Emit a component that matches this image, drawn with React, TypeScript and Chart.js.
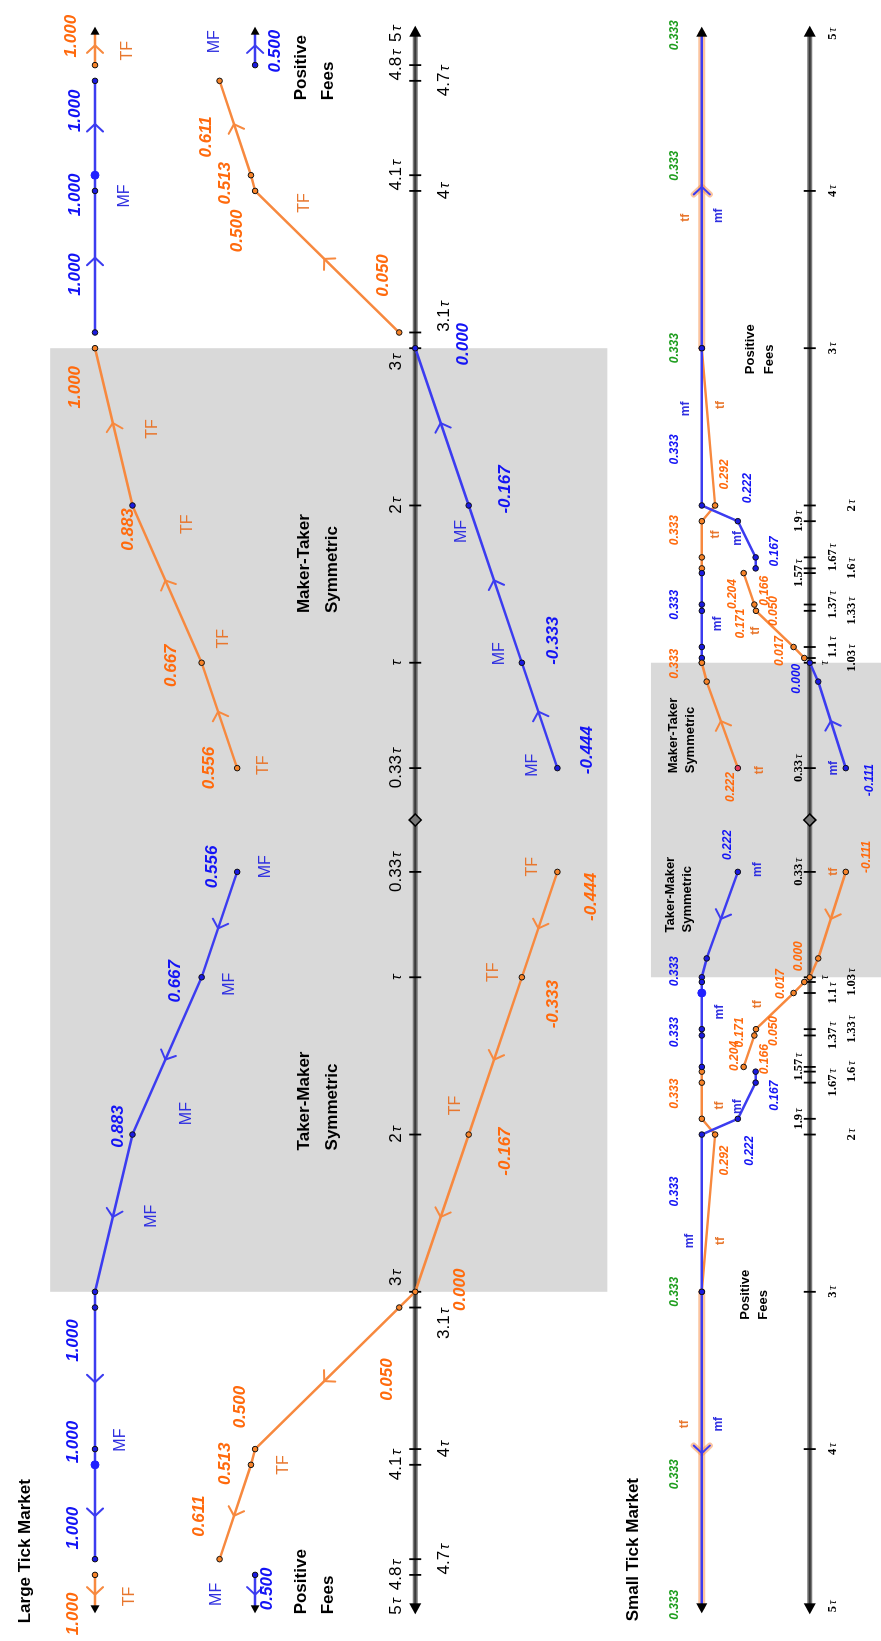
import { useEffect, useRef } from "react";
import { Chart, registerables } from "chart.js";

Chart.register(...registerables);

/* ---------- Large tick market ---------- */
// τ multiples; the maker-taker side runs to the right, the taker-maker side is mirrored to the left
const LT_SYM_TAU = [0.33, 1, 2, 3];
const LT_UPPER = [0.556, 0.667, 0.883, 1.0]; // TF on maker-taker side, MF on taker-maker side
const LT_LOWER = [-0.444, -0.333, -0.167, 0.0]; // MF on maker-taker side, TF on taker-maker side
const LT_POS_TAU = [3.1, 4, 4.1, 4.7];
const LT_POS_TF = [0.05, 0.5, 0.513, 0.611];
const LT_POS_MF = [1.0, 1.0, 1.0, 1.0];
const LT_RAY_TAU = [4.8, 5];
const LT_RAY_TF = [1.0, 1.0];
const LT_RAY_MF = [0.5, 0.5];
const LT_TICKS = [0.33, 1, 2, 3, 3.1, 4, 4.1, 4.7, 4.8, 5];

/* ---------- Small tick market ---------- */
const ST_SYM_TAU = [0.33, 0.88, 1];
const ST_UPPER = [0.222, 0.318, 0.333];
const ST_LOWER = [-0.111, -0.026, 0.0];
const ST_A_TAU = [1.03, 1.1, 1.33, 1.37, 1.57];
const ST_A_TF = [0.017, 0.05, 0.166, 0.171, 0.204];
const ST_A_MF_TAU = [1, 1.03, 1.1, 1.33, 1.37, 1.57];
const ST_A_MF = [0.333, 0.333, 0.333, 0.333, 0.333, 0.333];
const ST_B_TAU = [1.6, 1.67, 1.9, 2, 3];
const ST_B_TF = [0.333, 0.333, 0.333, 0.292, 0.333];
const ST_B_MF = [0.167, 0.167, 0.222, 0.333, 0.333];
const ST_FAR_TAU = [3, 5];
const ST_FAR = [0.333, 0.333];
const ST_TICKS = [0.33, 1, 1.03, 1.1, 1.33, 1.37, 1.57, 1.6, 1.67, 1.9, 2, 3, 4, 5];

/* ---------- styling ---------- */
const W = 1641;
const H = 881;
const SANS = '"Liberation Sans", Arial, Helvetica, sans-serif';
const SERIF = '"Liberation Serif", "Times New Roman", serif';
const ORANGE = "#f7893f";
const BLUE = "#3c3cf0";
const ORANGE_TXT = "#ff6a0d";
const BLUE_TXT = "#1414f5";
const GREEN_TXT = "#1f9e1f";
const TF_NAME = "#e8772e";
const MF_NAME = "#2f2fe0";
const DOT_ORANGE = "#f7842a";
const DOT_BLUE = "#1a1ae0";
const DOT_RED = "#e83c5e";
const BAND = "#d9d9d9";

// shaded symmetric regions (τ range, value range)
const LT_BAND_TAU = [-3, 3];
const LT_BAND_VAL = [-0.6, 1.14];
const ST_BAND_TAU = [-1, 1];
const ST_BAND_VAL = [-0.25, 0.49];

const neg = (a: number[]) => a.map((t) => -t);

type Ser = { tau: number[]; val: number[]; axis: "y" | "y2"; kind: "tf" | "mf" | "eq" };
const SERIES: Record<string, Ser> = {
  ltUpR: { tau: LT_SYM_TAU, val: LT_UPPER, axis: "y", kind: "tf" },
  ltLoR: { tau: LT_SYM_TAU, val: LT_LOWER, axis: "y", kind: "mf" },
  ltUpL: { tau: neg(LT_SYM_TAU), val: LT_UPPER, axis: "y", kind: "mf" },
  ltLoL: { tau: neg(LT_SYM_TAU), val: LT_LOWER, axis: "y", kind: "tf" },
  ltPosTfR: { tau: LT_POS_TAU, val: LT_POS_TF, axis: "y", kind: "tf" },
  ltPosMfR: { tau: LT_POS_TAU, val: LT_POS_MF, axis: "y", kind: "mf" },
  ltPosTfL: { tau: neg(LT_POS_TAU), val: LT_POS_TF, axis: "y", kind: "tf" },
  ltPosMfL: { tau: neg(LT_POS_TAU), val: LT_POS_MF, axis: "y", kind: "mf" },
  ltRayTfR: { tau: LT_RAY_TAU, val: LT_RAY_TF, axis: "y", kind: "tf" },
  ltRayTfL: { tau: neg(LT_RAY_TAU), val: LT_RAY_TF, axis: "y", kind: "tf" },
  ltRayMfR: { tau: LT_RAY_TAU, val: LT_RAY_MF, axis: "y", kind: "mf" },
  ltRayMfL: { tau: neg(LT_RAY_TAU), val: LT_RAY_MF, axis: "y", kind: "mf" },
  stUpR: { tau: ST_SYM_TAU, val: ST_UPPER, axis: "y2", kind: "tf" },
  stLoR: { tau: ST_SYM_TAU, val: ST_LOWER, axis: "y2", kind: "mf" },
  stUpL: { tau: neg(ST_SYM_TAU), val: ST_UPPER, axis: "y2", kind: "mf" },
  stLoL: { tau: neg(ST_SYM_TAU), val: ST_LOWER, axis: "y2", kind: "tf" },
  stATfR: { tau: ST_A_TAU, val: ST_A_TF, axis: "y2", kind: "tf" },
  stATfL: { tau: neg(ST_A_TAU), val: ST_A_TF, axis: "y2", kind: "tf" },
  stAMfR: { tau: ST_A_MF_TAU, val: ST_A_MF, axis: "y2", kind: "mf" },
  stAMfL: { tau: neg(ST_A_MF_TAU), val: ST_A_MF, axis: "y2", kind: "mf" },
  stBTfR: { tau: ST_B_TAU, val: ST_B_TF, axis: "y2", kind: "tf" },
  stBTfL: { tau: neg(ST_B_TAU), val: ST_B_TF, axis: "y2", kind: "tf" },
  stBMfR: { tau: ST_B_TAU, val: ST_B_MF, axis: "y2", kind: "mf" },
  stBMfL: { tau: neg(ST_B_TAU), val: ST_B_MF, axis: "y2", kind: "mf" },
  stFarR: { tau: ST_FAR_TAU, val: ST_FAR, axis: "y2", kind: "eq" },
  stFarL: { tau: neg(ST_FAR_TAU), val: ST_FAR, axis: "y2", kind: "eq" },
};

type Part = { tau: number[]; val: number[] };
const tail = (s: Part): Part => ({ tau: s.tau.slice(1), val: s.val.slice(1) });
const join = (...parts: Part[]) =>
  parts.flatMap((p) => p.tau.map((t, i) => ({ x: t, y: p.val[i] })));

const per = (n: number, base: any, over: Record<number, any> = {}) =>
  Array.from({ length: n }, (_, i) => (i in over ? over[i] : base));

function ds(data: any[], axis: string, color: string, o: any = {}) {
  const n = data.length;
  const dot = color === ORANGE ? DOT_ORANGE : DOT_BLUE;
  return {
    type: "line",
    data,
    yAxisID: axis,
    borderColor: o.lineColor ?? color,
    borderWidth: o.width ?? 2.5,
    borderCapStyle: "round",
    borderJoinStyle: "round",
    pointRadius: o.radius ?? per(n, 2.8, o.radiusOver),
    pointBackgroundColor: per(n, dot, o.fillOver),
    pointBorderColor: per(n, "#111", o.borderOver),
    pointBorderWidth: 1,
    pointHoverRadius: 0,
    tension: 0,
    fill: false,
    clip: false,
    order: o.order ?? 0,
    arrows: o.arrows ?? [],
    chevColor: o.chevColor ?? color,
    chevW: o.chevW ?? 2,
    endArrow: o.end ?? false,
    endSize: o.endSize ?? 9,
  };
}

const S = SERIES;
const BIG = "#2020ff";
const DATASETS = [
  // large tick market, maker-taker side
  ds(join(S.ltUpR), "y", ORANGE, { arrows: [0, 1, 2], fillOver: { 2: DOT_BLUE } }),
  ds(join(S.ltLoR), "y", BLUE, { arrows: [0, 1, 2] }),
  ds(join(S.ltPosMfR), "y", BLUE, { arrows: [0, 2], radiusOver: { 2: 4 }, fillOver: { 2: BIG }, borderOver: { 2: BIG } }),
  ds(join(S.ltPosTfR), "y", ORANGE, { arrows: [0, 2] }),
  // large tick market, taker-maker side (continues into positive fees)
  ds(join(S.ltUpL, S.ltPosMfL), "y", BLUE, { arrows: [0, 1, 2, 4, 6], radiusOver: { 6: 4 }, fillOver: { 6: BIG }, borderOver: { 6: BIG } }),
  ds(join(S.ltLoL, S.ltPosTfL), "y", ORANGE, { arrows: [0, 1, 2, 4, 6] }),
  // rays beyond 4.8τ
  ds(join(S.ltRayTfR), "y", ORANGE, { arrows: [0], end: true, endSize: 8, radius: [2.8, 0] }),
  ds(join(S.ltRayTfL), "y", ORANGE, { arrows: [0], end: true, endSize: 8, radius: [2.8, 0] }),
  ds(join(S.ltRayMfR), "y", BLUE, { arrows: [0], end: true, endSize: 8, radius: [2.8, 0] }),
  ds(join(S.ltRayMfL), "y", BLUE, { arrows: [0], end: true, endSize: 8, radius: [2.8, 0] }),
  // small tick market, maker-taker side
  ds(join(S.stUpR), "y2", ORANGE, { arrows: [0], fillOver: { 0: DOT_RED } }),
  ds(join(S.stLoR), "y2", BLUE, { arrows: [0] }),
  ds(join(S.stAMfR), "y2", BLUE),
  ds(join(S.stATfR), "y2", ORANGE),
  ds(join(S.stBMfR, tail(S.stFarR)), "y2", BLUE, { arrows: [4], end: true, endSize: 10, radiusOver: { 5: 0 } }),
  ds(join(S.stBTfR), "y2", ORANGE, { fillOver: { 4: DOT_RED } }),
  ds(join(S.stFarR), "y2", ORANGE, { lineColor: "rgba(247,137,63,0.5)", width: 7, radius: [0, 0], arrows: [0], chevColor: "rgba(247,137,63,0.5)", chevW: 6, order: 5 }),
  // small tick market, taker-maker side
  ds(join(S.stUpL, tail(S.stAMfL)), "y2", BLUE, { arrows: [0], radiusOver: { 4: 4 }, fillOver: { 4: BIG }, borderOver: { 4: BIG } }),
  ds(join(S.stLoL, S.stATfL), "y2", ORANGE, { arrows: [0] }),
  ds(join(S.stBMfL, tail(S.stFarL)), "y2", BLUE, { arrows: [4], end: true, endSize: 10, radiusOver: { 5: 0 } }),
  ds(join(S.stBTfL), "y2", ORANGE),
  ds(join(S.stFarL), "y2", ORANGE, { lineColor: "rgba(247,137,63,0.5)", width: 7, radius: [0, 0], arrows: [0], chevColor: "rgba(247,137,63,0.5)", chevW: 6, order: 5 }),
];

/* ---------- label layout ---------- */
// value labels: [series, point index, dx px, dy px]
const LT_VALUE_LABELS: [string, number, number, number][] = [
  ["ltUpR", 0, 0, -28], ["ltUpR", 1, -3, -30], ["ltUpR", 2, -24, -4], ["ltUpR", 3, -39, -20],
  ["ltLoR", 0, 18, 30], ["ltLoR", 1, 22, 31], ["ltLoR", 2, 16, 37], ["ltLoR", 3, 4, 48],
  ["ltUpL", 0, 5, -25], ["ltUpL", 1, -4, -26], ["ltUpL", 2, 8, -14],
  ["ltLoL", 0, -25, 34], ["ltLoL", 1, -27, 31], ["ltLoL", 2, -17, 37], ["ltLoL", 3, 2, 45],
  ["ltPosTfR", 0, 57, -16], ["ltPosTfR", 1, -40, -18], ["ltPosTfR", 2, -8, -26], ["ltPosTfR", 3, -56, -13],
  ["ltPosMfR", 0, 58, -20], ["ltPosMfR", 1, -4, -20], ["ltPosMfR", 3, -30, -20],
  ["ltPosTfL", 0, -72, -12], ["ltPosTfL", 1, 42, -15], ["ltPosTfL", 2, 1, -26], ["ltPosTfL", 3, 43, -20],
  ["ltPosMfL", 0, -33, -22], ["ltPosMfL", 1, 7, -22], ["ltPosMfL", 3, 31, -22],
  ["ltRayTfR", 0, 29, -24], ["ltRayMfR", 0, 14, 20], ["ltRayTfL", 0, -39, -22], ["ltRayMfL", 0, -14, 12],
];
const ST_VALUE_LABELS: [string, number, number, number][] = [
  ["stUpR", 0, -19, -7], ["stLoR", 0, -12, 24], ["stUpR", 2, -1, -27], ["stLoR", 2, -16, -13],
  ["stUpL", 0, 27, -10], ["stLoL", 0, 15, 21], ["stLoL", 2, 21, -11], ["stUpL", 2, 6, -27],
  ["stATfR", 0, 7, -25], ["stATfR", 1, 36, -20], ["stATfR", 2, 20, 9], ["stATfR", 3, -19, -14], ["stATfR", 4, -21, -11],
  ["stBMfR", 0, 17, 19], ["stBMfR", 2, 33, 10], ["stBTfR", 3, 31, 10], ["stBMfR", 3, 56, -27], ["stBTfR", 2, -9, -27],
  ["stAMfR", 3, 6, -27],
  ["stAMfL", 3, -3, -27], ["stBTfL", 1, -11, -27], ["stBMfL", 3, -57, -27],
  ["stBTfL", 3, -26, 10], ["stBMfL", 2, -32, 12], ["stBMfL", 0, -24, 19],
  ["stATfL", 4, 11, -9], ["stATfL", 3, 3, -15], ["stATfL", 2, -30, 9], ["stATfL", 1, -38, -20], ["stATfL", 0, -2, -24],
];
// where the shared 0.333 level is annotated (τ)
const ST_EQ_LABEL_TAU = [3.0, 4.16, 4.99];

// series names at (τ, value)
const LT_NAMES: [string, number, number][] = [
  ["TF", 2.487, 0.82], ["TF", 1.88, 0.712], ["TF", 1.152, 0.598], ["TF", 0.348, 0.474],
  ["TF", -0.297, -0.368], ["TF", -0.968, -0.245], ["TF", -1.816, -0.127],
  ["TF", 3.924, 0.347], ["TF", -4.101, 0.412], ["TF", 4.892, 0.898], ["TF", -4.937, 0.892],
  ["MF", 1.835, -0.146], ["MF", 1.057, -0.263], ["MF", 0.348, -0.368],
  ["MF", -0.297, 0.467], ["MF", -1.044, 0.579], ["MF", -1.867, 0.715], ["MF", -2.519, 0.824],
  ["MF", 3.968, 0.907], ["MF", -3.943, 0.92], ["MF", 4.949, 0.625], ["MF", -4.924, 0.619],
];
const ST_NAMES: [string, number, number][] = [
  ["tf", 2.639, 0.275], ["tf", 1.816, 0.291], ["tf", 1.203, 0.168], ["tf", 0.316, 0.156],
  ["tf", -0.329, -0.073], ["tf", -1.171, 0.162], ["tf", -1.816, 0.278], ["tf", -2.677, 0.275],
  ["tf", 3.829, 0.382], ["tf", -3.842, 0.385],
  ["mf", 2.614, 0.382], ["mf", 1.791, 0.223], ["mf", 1.247, 0.284], ["mf", 0.329, -0.073],
  ["mf", -0.316, 0.162], ["mf", -1.222, 0.278], ["mf", -1.823, 0.223], ["mf", -2.677, 0.37],
  ["mf", 3.842, 0.281], ["mf", -3.842, 0.281],
];
// block texts: [lines, τ of left edge, value of first line centre, value step, axis, font]
const BLOCKS: [string[], number, number, number, "y" | "y2", string][] = [
  [["Large Tick Market"], -5.108, 1.217, 0, "y", `bold 17px ${SANS}`],
  [["Maker-Taker", "Symmetric"], 1.316, 0.347, -0.087, "y", `bold 17px ${SANS}`],
  [["Taker-Maker", "Symmetric"], -2.101, 0.347, -0.087, "y", `bold 17px ${SANS}`],
  [["Positive", "Fees"], 4.576, 0.356, -0.084, "y", `bold 17px ${SANS}`],
  [["Positive", "Fees"], -5.051, 0.356, -0.084, "y", `bold 17px ${SANS}`],
  [["Small Tick Market"], -5.095, 0.544, 0, "y2", `bold 17px ${SANS}`],
  [["Maker-Taker", "Symmetric"], 0.297, 0.422, -0.055, "y2", `bold 13px ${SANS}`],
  [["Taker-Maker", "Symmetric"], -0.715, 0.431, -0.055, "y2", `bold 13px ${SANS}`],
  [["Positive", "Fees"], 2.835, 0.183, -0.058, "y2", `bold 13px ${SANS}`],
  [["Positive", "Fees"], -3.177, 0.199, -0.055, "y2", `bold 13px ${SANS}`],
];
// tick label placement: side of axis and a nudge along it (outward positive)
const LT_TICK_SIDE = ["a", "a", "a", "a", "b", "b", "a", "b", "a", "a"];
const LT_TICK_NUDGE = [0, 0, 0, -14, 16, 0, 0, 0, 0, 0];
const ST_TICK_ROW = ["a", "t", "r2", "r1", "r2", "r1", "a", "r2", "r1", "a", "r2", "r1", "r1", "r1"];

/* ---------- drawing helpers ---------- */
function chevron(ctx: CanvasRenderingContext2D, x: number, y: number, ang: number, color: string, lw: number) {
  const size = 11;
  const spread = 0.82;
  ctx.save();
  ctx.strokeStyle = color;
  ctx.lineWidth = lw;
  ctx.lineCap = "round";
  ctx.lineJoin = "round";
  ctx.beginPath();
  ctx.moveTo(x + size * Math.cos(ang + Math.PI - spread), y + size * Math.sin(ang + Math.PI - spread));
  ctx.lineTo(x, y);
  ctx.lineTo(x + size * Math.cos(ang + Math.PI + spread), y + size * Math.sin(ang + Math.PI + spread));
  ctx.stroke();
  ctx.restore();
}

function triangle(ctx: CanvasRenderingContext2D, x: number, y: number, ang: number, len: number, half: number) {
  const bx = x - len * Math.cos(ang);
  const by = y - len * Math.sin(ang);
  ctx.save();
  ctx.fillStyle = "#000";
  ctx.beginPath();
  ctx.moveTo(x, y);
  ctx.lineTo(bx + half * Math.sin(ang), by - half * Math.cos(ang));
  ctx.lineTo(bx - half * Math.sin(ang), by + half * Math.cos(ang));
  ctx.closePath();
  ctx.fill();
  ctx.restore();
}

function tauLabel(ctx: CanvasRenderingContext2D, t: number, cx: number, cy: number, numFont: string, tauFont: string, shift: number) {
  const num = t === 1 ? "" : String(t);
  ctx.font = numFont;
  const w1 = num ? ctx.measureText(num).width + 1.5 : 0;
  ctx.font = tauFont;
  const w2 = ctx.measureText("τ").width;
  const x0 = cx - (w1 + w2) / 2;
  ctx.fillStyle = "#000";
  ctx.textAlign = "left";
  ctx.textBaseline = "alphabetic";
  if (num) {
    ctx.font = numFont;
    ctx.fillText(num, x0, cy + shift);
  }
  ctx.font = tauFont;
  ctx.fillText("τ", x0 + w1, cy + shift);
}

function text(ctx: CanvasRenderingContext2D, s: string, x: number, y: number, font: string, color: string, align: CanvasTextAlign = "center") {
  ctx.font = font;
  ctx.fillStyle = color;
  ctx.textAlign = align;
  ctx.textBaseline = "middle";
  ctx.fillText(s, x, y);
}

const backdrop = {
  id: "backdrop",
  beforeDatasetsDraw(chart: any) {
    const { ctx } = chart;
    const X = (t: number) => chart.scales.x.getPixelForValue(t);
    const Y = (v: number, a: string) => chart.scales[a].getPixelForValue(v);
    ctx.save();
    ctx.fillStyle = BAND;
    const box = (tau: number[], val: number[], a: string) => {
      const x0 = X(tau[0]);
      const x1 = X(tau[1]);
      const y0 = Y(val[1], a);
      const y1 = Y(val[0], a);
      ctx.fillRect(x0, y0, x1 - x0, y1 - y0);
    };
    box(LT_BAND_TAU, LT_BAND_VAL, "y");
    box(ST_BAND_TAU, ST_BAND_VAL, "y2");

    const axis = (a: string, ticks: number[]) => {
      const y0 = Y(0, a);
      const end = ticks[ticks.length - 1];
      ctx.lineCap = "butt";
      ctx.strokeStyle = "#7a7a7a";
      ctx.lineWidth = 5;
      ctx.beginPath();
      ctx.moveTo(X(-end), y0);
      ctx.lineTo(X(end), y0);
      ctx.stroke();
      ctx.strokeStyle = "#3a3a3a";
      ctx.lineWidth = 2;
      ctx.stroke();
      triangle(ctx, X(end) + 8, y0, 0, 11, 6);
      triangle(ctx, X(-end) - 8, y0, Math.PI, 11, 6);
      ctx.strokeStyle = "#000";
      ctx.lineWidth = 1.8;
      for (const t of ticks.slice(0, -1)) {
        for (const s of [1, -1]) {
          ctx.beginPath();
          ctx.moveTo(X(s * t), y0 - 6);
          ctx.lineTo(X(s * t), y0 + 6);
          ctx.stroke();
        }
      }
      const cx = X(0);
      ctx.beginPath();
      ctx.moveTo(cx - 6, y0);
      ctx.lineTo(cx, y0 - 6);
      ctx.lineTo(cx + 6, y0);
      ctx.lineTo(cx, y0 + 6);
      ctx.closePath();
      ctx.fillStyle = "#777";
      ctx.fill();
      ctx.lineWidth = 1.6;
      ctx.stroke();
    };
    axis("y", LT_TICKS);
    axis("y2", ST_TICKS);

    // tick labels
    const ly = Y(0, "y");
    LT_TICKS.forEach((t, i) => {
      for (const s of [1, -1]) {
        const cx = X(s * t) + s * LT_TICK_NUDGE[i];
        const cy = LT_TICK_SIDE[i] === "a" ? ly - 20 : ly + 28;
        tauLabel(ctx, t, cx, cy, `17px ${SANS}`, `italic 15px ${SANS}`, 6);
      }
    });
    const sy = Y(0, "y2");
    const rows: Record<string, number> = { a: -12, t: 14, r1: 22, r2: 41 };
    ST_TICKS.forEach((t, i) => {
      for (const s of [1, -1]) {
        tauLabel(ctx, t, X(s * t), sy + rows[ST_TICK_ROW[i]], `bold 12.5px ${SERIF}`, `italic 12px ${SERIF}`, 4);
      }
    });
    ctx.restore();
  },
};

const marks = {
  id: "marks",
  afterDatasetDraw(chart: any, args: any) {
    const d: any = chart.data.datasets[args.index];
    const pts = args.meta.data;
    const { ctx } = chart;
    for (const i of d.arrows) {
      const a = pts[i];
      const b = pts[i + 1];
      const ang = Math.atan2(b.y - a.y, b.x - a.x);
      const mx = (a.x + b.x) / 2 + 4 * Math.cos(ang);
      const my = (a.y + b.y) / 2 + 4 * Math.sin(ang);
      chevron(ctx, mx, my, ang, d.chevColor, d.chevW);
    }
    if (d.endArrow) {
      const a = pts[pts.length - 2];
      const b = pts[pts.length - 1];
      const ang = Math.atan2(b.y - a.y, b.x - a.x);
      triangle(ctx, b.x + 7 * Math.cos(ang), b.y + 7 * Math.sin(ang), ang, d.endSize, d.endSize * 0.55);
    }
  },
  afterDraw(chart: any) {
    const { ctx } = chart;
    const X = (t: number) => chart.scales.x.getPixelForValue(t);
    const Y = (v: number, a: string) => chart.scales[a].getPixelForValue(v);
    ctx.save();
    const valueColor = (k: string) => (k === "tf" ? ORANGE_TXT : k === "mf" ? BLUE_TXT : GREEN_TXT);
    const put = (list: [string, number, number, number][], font: string) => {
      for (const [key, i, dx, dy] of list) {
        const s = SERIES[key];
        const v = s.val[i];
        text(ctx, v.toFixed(3), X(s.tau[i]) + dx, Y(v, s.axis) + dy, font, valueColor(s.kind));
      }
    };
    put(LT_VALUE_LABELS, `italic bold 17px ${SANS}`);
    put(ST_VALUE_LABELS, `italic bold 12px ${SANS}`);
    for (const side of [1, -1]) {
      const s = side > 0 ? SERIES.stFarR : SERIES.stFarL;
      for (const t of ST_EQ_LABEL_TAU) {
        text(ctx, s.val[0].toFixed(3), X(side * t), Y(s.val[0], "y2") - 27, `italic bold 12px ${SANS}`, GREEN_TXT);
      }
    }
    for (const [s, t, v] of LT_NAMES) {
      text(ctx, s, X(t), Y(v, "y"), `16px ${SANS}`, s === "TF" ? TF_NAME : MF_NAME);
    }
    for (const [s, t, v] of ST_NAMES) {
      text(ctx, s, X(t), Y(v, "y2"), `bold 12px ${SANS}`, s === "tf" ? TF_NAME : MF_NAME);
    }
    for (const [lines, t, v, step, a, font] of BLOCKS) {
      lines.forEach((ln, j) => text(ctx, ln, X(t), Y(v + j * step, a), font, "#000", "left"));
    }
    ctx.restore();
  },
};

export default function App() {
  const ref = useRef<HTMLCanvasElement>(null);
  useEffect(() => {
    document.body.style.margin = "0";
    const chart = new Chart(ref.current as HTMLCanvasElement, {
      type: "line",
      data: { datasets: DATASETS as any },
      options: {
        animation: false,
        responsive: false,
        maintainAspectRatio: false,
        events: [],
        layout: { padding: 0 },
        plugins: { legend: { display: false }, tooltip: { enabled: false } },
        scales: {
          x: { type: "linear", min: -821 / 158, max: (W - 821) / 158, display: false },
          y: { type: "linear", min: -(H - 415) / 323, max: 415 / 323, display: false },
          y2: { type: "linear", min: -(H - 813) / 327, max: 813 / 327, display: false },
        },
      } as any,
      plugins: [backdrop, marks],
    });
    return () => chart.destroy();
  }, []);
  return (
    <div style={{ position: "absolute", left: 0, top: 0, width: H, height: W, overflow: "hidden", background: "#fff" }}>
      <div
        style={{
          position: "absolute",
          left: 0,
          top: 0,
          width: W,
          height: H,
          transformOrigin: "0 0",
          transform: `translateY(${W}px) rotate(-90deg)`,
        }}
      >
        <canvas ref={ref} width={W} height={H} style={{ width: W, height: H, display: "block" }} />
      </div>
    </div>
  );
}
